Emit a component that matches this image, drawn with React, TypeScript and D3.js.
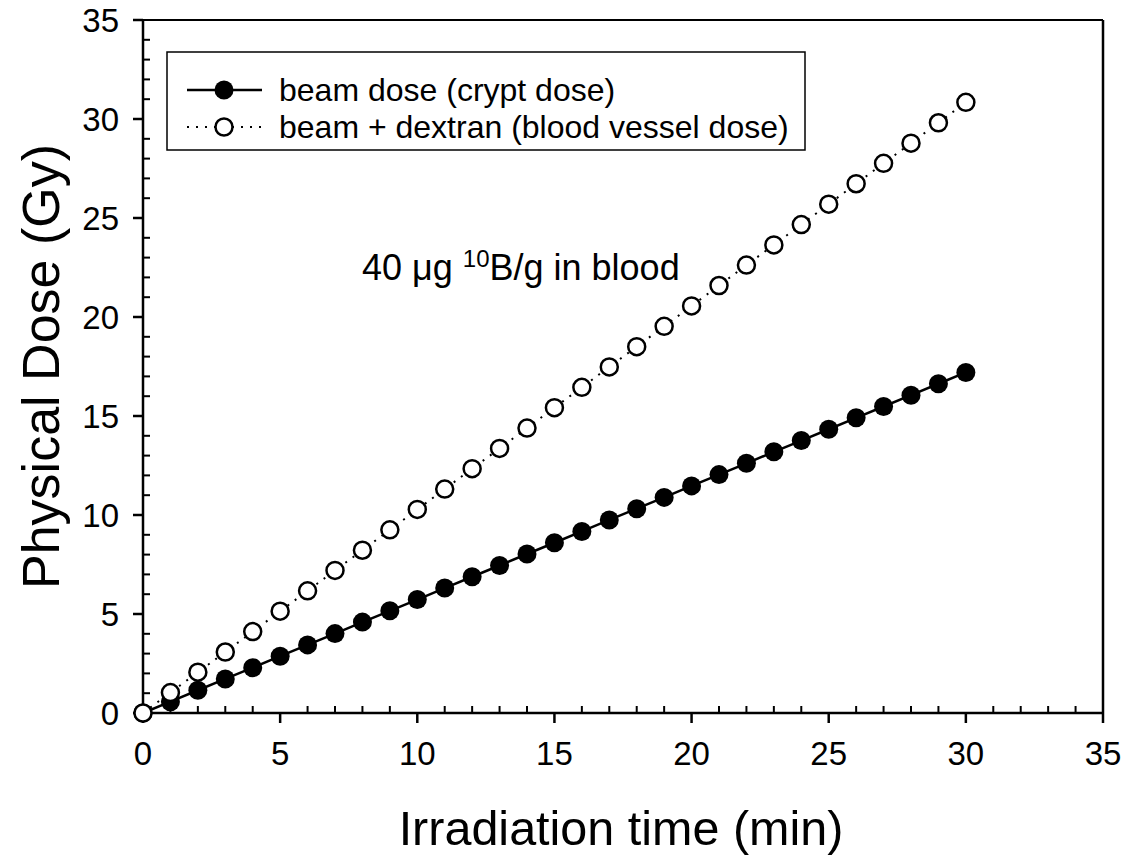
import React from "react";
import * as d3 from "d3";

// Irradiation time points (min)
const times = [0, 1, 2, 3, 4, 5, 6, 7, 8, 9, 10, 11, 12, 13, 14, 15, 16, 17, 18, 19, 20, 21, 22, 23, 24, 25, 26, 27, 28, 29, 30];

// Beam dose (crypt dose), Gy
const beamDose = [0, 0.57, 1.15, 1.72, 2.29, 2.87, 3.44, 4.01, 4.59, 5.16, 5.73, 6.31, 6.88, 7.45, 8.03, 8.6, 9.17, 9.75, 10.32, 10.89, 11.47, 12.04, 12.61, 13.19, 13.76, 14.33, 14.91, 15.48, 16.05, 16.63, 17.2];

// Beam + dextran (blood vessel dose), Gy
const vesselDose = [0, 1.03, 2.06, 3.08, 4.11, 5.14, 6.17, 7.2, 8.22, 9.25, 10.28, 11.31, 12.34, 13.36, 14.39, 15.42, 16.45, 17.48, 18.5, 19.53, 20.56, 21.59, 22.62, 23.64, 24.67, 25.7, 26.73, 27.76, 28.78, 29.81, 30.84];

const xTicks = [0, 5, 10, 15, 20, 25, 30, 35];
const yTicks = [0, 5, 10, 15, 20, 25, 30, 35];
const legendLabels = ["beam dose (crypt dose)", "beam + dextran (blood vessel dose)"];

const W = 1128;
const H = 857;
const FONT = "'Liberation Sans', Arial, Helvetica, sans-serif";

export default function App() {
  const x = d3.scaleLinear().domain([0, 35]).range([143, 1103]);
  const y = d3.scaleLinear().domain([0, 35]).range([713, 20]);

  const minorX = d3.range(0, 35, 1).filter((v) => v % 5 !== 0);
  const minorY = d3.range(0, 35, 1).filter((v) => v % 5 !== 0);

  const line = d3
    .line<number>()
    .x((_, i) => x(times[i]))
    .y((d) => y(d));

  const x0 = x(0);
  const y0 = y(0);
  const xMax = x(35);
  const yMax = y(35);

  return (
    <svg
      width={W}
      height={H}
      viewBox={`0 0 ${W} ${H}`}
      style={{ position: "absolute", left: 0, top: 0, background: "#fff" }}
      fontFamily={FONT}
    >
      <rect x={0} y={0} width={W} height={H} fill="#fff" />

      {/* frame: top and right */}
      <line x1={x0} y1={yMax} x2={xMax} y2={yMax} stroke="#000" strokeWidth={2} />
      <line x1={xMax} y1={yMax} x2={xMax} y2={y0} stroke="#000" strokeWidth={2.5} />

      {/* left axis */}
      <line x1={x0} y1={yMax} x2={x0} y2={y0} stroke="#000" strokeWidth={2.5} />
      {yTicks.map((t) => (
        <g key={"yt" + t}>
          <line x1={x0 - 10} x2={x0} y1={y(t)} y2={y(t)} stroke="#000" strokeWidth={2.5} />
          <text x={119} y={y(t)} dy="0.36em" textAnchor="end" fontSize={33}>
            {t}
          </text>
        </g>
      ))}
      {minorY.map((t) => (
        <line key={"ym" + t} x1={x0} x2={x0 + 7} y1={y(t)} y2={y(t)} stroke="#000" strokeWidth={2} />
      ))}

      {/* bottom axis */}
      <line x1={x0} y1={y0} x2={xMax} y2={y0} stroke="#000" strokeWidth={2.5} />
      {xTicks.map((t) => (
        <g key={"xt" + t}>
          <line x1={x(t)} x2={x(t)} y1={y0} y2={y0 + 10} stroke="#000" strokeWidth={2.5} />
          <text x={x(t)} y={765} textAnchor="middle" fontSize={33}>
            {t}
          </text>
        </g>
      ))}
      {minorX.map((t) => (
        <line key={"xm" + t} x1={x(t)} x2={x(t)} y1={y0} y2={y0 - 7} stroke="#000" strokeWidth={2} />
      ))}

      {/* axis titles */}
      <text x={621} y={845} textAnchor="middle" fontSize={48.5}>
        Irradiation time (min)
      </text>
      <text
        transform={`translate(59, ${(yMax + y0) / 2}) rotate(-90)`}
        textAnchor="middle"
        fontSize={52}
      >
        Physical Dose (Gy)
      </text>

      {/* beam dose series */}
      <path d={line(beamDose) ?? ""} fill="none" stroke="#000" strokeWidth={2.5} />
      {beamDose.map((v, i) => (
        <circle key={"b" + i} cx={x(times[i])} cy={y(v)} r={9.5} fill="#000" />
      ))}

      {/* beam + dextran series */}
      <path
        d={line(vesselDose) ?? ""}
        fill="none"
        stroke="#000"
        strokeWidth={2}
        strokeDasharray="2,7"
      />
      {vesselDose.map((v, i) => (
        <circle
          key={"v" + i}
          cx={x(times[i])}
          cy={y(v)}
          r={8.5}
          fill="#fff"
          stroke="#000"
          strokeWidth={2.5}
        />
      ))}

      {/* annotation */}
      <text x={362} y={280} fontSize={36}>
        40 μg <tspan fontSize={24} dy={-13}>10</tspan>
        <tspan dy={13}>B/g in blood</tspan>
      </text>

      {/* legend */}
      <rect x={167} y={52} width={638} height={98} fill="#fff" stroke="#000" strokeWidth={1.5} />
      <line x1={187} x2={262} y1={90} y2={90} stroke="#000" strokeWidth={2.5} />
      <circle cx={224} cy={90} r={9.5} fill="#000" />
      <text x={279} y={101} fontSize={32}>
        {legendLabels[0]}
      </text>
      <line x1={187} x2={262} y1={127} y2={127} stroke="#000" strokeWidth={2} strokeDasharray="2,7" />
      <circle cx={224} cy={127} r={8.5} fill="#fff" stroke="#000" strokeWidth={2.5} />
      <text x={279} y={138} fontSize={32}>
        {legendLabels[1]}
      </text>
    </svg>
  );
}
